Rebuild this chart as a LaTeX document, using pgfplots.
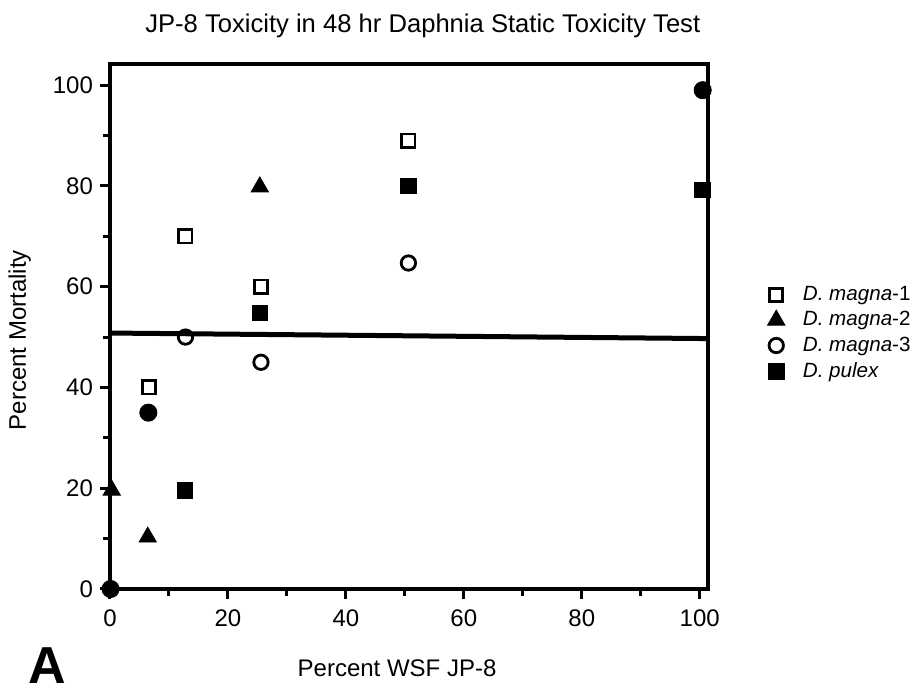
\documentclass[border=0pt]{standalone}
\usepackage{fontspec}
\setmainfont{Liberation Sans}
\usepackage{pgfplots}
\pgfplotsset{compat=1.18}
\begin{document}
\begin{tikzpicture}
% 1 px of the reference = 0.5pt
\useasboundingbox (-55pt,-52.5pt) rectangle (402.5pt,294.5pt);
\begin{axis}[
    scale only axis,
    width=299pt, height=262.5pt,
    xmin=0, xmax=101.4,
    ymin=0, ymax=104.2,
    clip=false,
    axis line style={line width=2pt},
    xtick={0,20,...,100}, ytick={0,20,...,100},
    minor xtick={10,30,...,90}, minor ytick={10,30,...,90},
    tick align=outside, xtick pos=bottom, ytick pos=left,
    major tick length=5pt, minor tick length=3.5pt,
    every tick/.style={black, line width=1.5pt},
    tick label style={font=\fontsize{12}{14}\selectfont},
    /pgf/number format/assume math mode=true,
    xticklabel style={yshift=-2pt},
    title={JP-8 Toxicity in 48 hr Daphnia Static Toxicity Test},
    title style={at={(axis description cs:0.523,1)}, anchor=center, yshift=13pt,
        font=\fontsize{12.8}{15}\selectfont},
    xlabel={Percent WSF JP-8},
    xlabel style={at={(axis description cs:0.48,-0.15)}, anchor=center,
        font=\fontsize{12}{14}\selectfont},
    ylabel={Percent Mortality},
    ylabel style={at={(axis description cs:-0.151,0.474)}, anchor=center, rotate=0,
        font=\fontsize{12}{14}\selectfont},
    legend cell align=left,
    legend image code/.code={\draw[#1] plot coordinates {(0pt,0pt)};},
    legend style={at={(axis description cs:1.099,0.585)}, anchor=north west,
        draw=none, fill=none, inner sep=0pt, row sep=0pt, column sep=7pt,
        font=\fontsize{10.3}{12}\selectfont},
]
% 50 % mortality line
\addplot[black, line width=2.5pt, forget plot] coordinates {(0,50.8) (101.4,49.7)};

\addplot[only marks, mark=square, mark size=3.3pt, line width=1.4pt, black]
    coordinates {(6.6,40) (12.8,70) (25.6,60) (50.6,89)};
\addlegendentry{\textit{D. magna}-1}
\addplot[only marks, mark=triangle*, mark size=5pt, black]
    coordinates {(0.3,19.6) (6.4,10.3) (25.4,79.8)};
\addlegendentry{\textit{D. magna}-2}
\addplot[only marks, mark=o, mark size=3.6pt, line width=1.4pt, black]
    coordinates {(12.8,50) (25.6,45) (50.6,64.7)};
\addlegendentry{\textit{D. magna}-3}
\addplot[only marks, mark=square*, mark size=3.9pt, black]
    coordinates {(12.7,19.6) (25.4,54.8) (50.6,80) (100.5,79.2)};
\addlegendentry{\textit{D. pulex}}
% overlapping points
\addplot[only marks, mark=*, mark size=4.3pt, black, forget plot]
    coordinates {(0.1,0) (6.5,35) (100.5,99)};
\end{axis}
\node[font=\fontsize{26}{30}\bfseries\selectfont, anchor=base] at (-31.5pt,-47.5pt) {A};
\end{tikzpicture}
\end{document}
